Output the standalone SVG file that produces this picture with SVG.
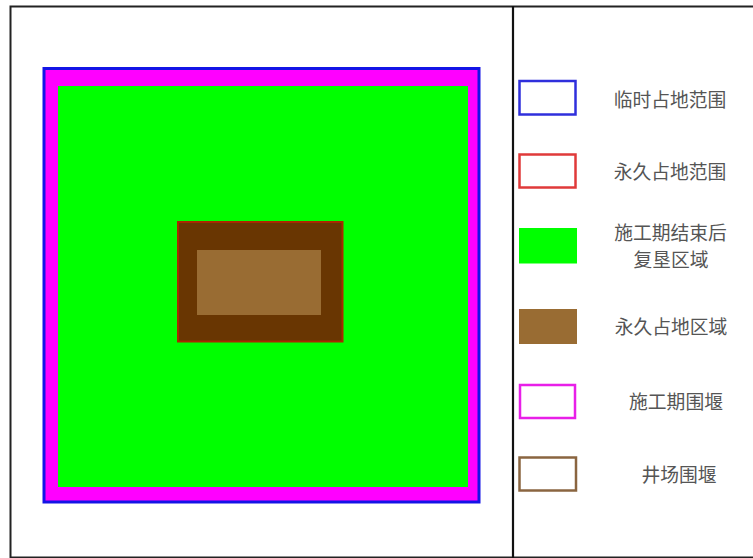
<svg xmlns="http://www.w3.org/2000/svg" width="753" height="558" viewBox="0 0 753 558">
<style>
.frame{fill:none;stroke:#222;stroke-width:2}
.sw{stroke-width:2.5}
.lbl{font-family:"Noto Sans CJK SC","Noto Sans CJK JP",sans-serif;font-size:18.8px;fill:#555;text-anchor:middle}
</style>
<rect width="753" height="558" fill="#fff"/>
<g id="frame">
<path class="frame" d="M753 6.500H10.500V557.500H753"/>
<path d="M513 6V558" stroke="#111" fill="none" stroke-width="2.200"/>
</g>
<g id="plan">
<rect id="temporary-area" x="44" y="68.500" width="435" height="433.500" fill="#f0f" stroke="#1414e6" stroke-width="3"/>
<rect id="reclaim-area" x="58" y="86" width="410" height="401" fill="#0f0"/>
<rect id="permanent-boundary" x="178" y="222" width="164.500" height="119.500" fill="#693602" stroke="#a82a00" stroke-width="2"/>
<rect id="permanent-area" x="197" y="250" width="124" height="65" fill="#996c33"/>
</g>
<g id="legend-temporary"><rect x="519.500" y="81" width="56" height="33.500" fill="#fff" stroke="#2f2fdc" class="sw"/><text class="lbl" x="670" y="106.500">临时占地范围</text></g>
<g id="legend-permanent"><rect x="519.500" y="154.500" width="56" height="33" fill="#fff" stroke="#e03a3a" class="sw"/><text class="lbl" x="670" y="179">永久占地范围</text></g>
<g id="legend-reclaim"><rect x="519" y="228" width="58" height="35.500" fill="#0f0"/><text class="lbl" x="670.500" y="240">施工期结束后</text><text class="lbl" x="671" y="267">复垦区域</text></g>
<g id="legend-permanent-area"><rect x="519" y="309" width="58" height="35" fill="#996c33"/><text class="lbl" x="671" y="333.500">永久占地区域</text></g>
<g id="legend-cofferdam"><rect x="520" y="385" width="55" height="33" fill="#fff" stroke="#e81fe8" class="sw"/><text class="lbl" x="676" y="408.500">施工期围堰</text></g>
<g id="legend-well-cofferdam"><rect x="519.500" y="457.500" width="56.500" height="33" fill="#fff" stroke="#8a6540" class="sw"/><text class="lbl" x="679" y="482">井场围堰</text></g>
</svg>
